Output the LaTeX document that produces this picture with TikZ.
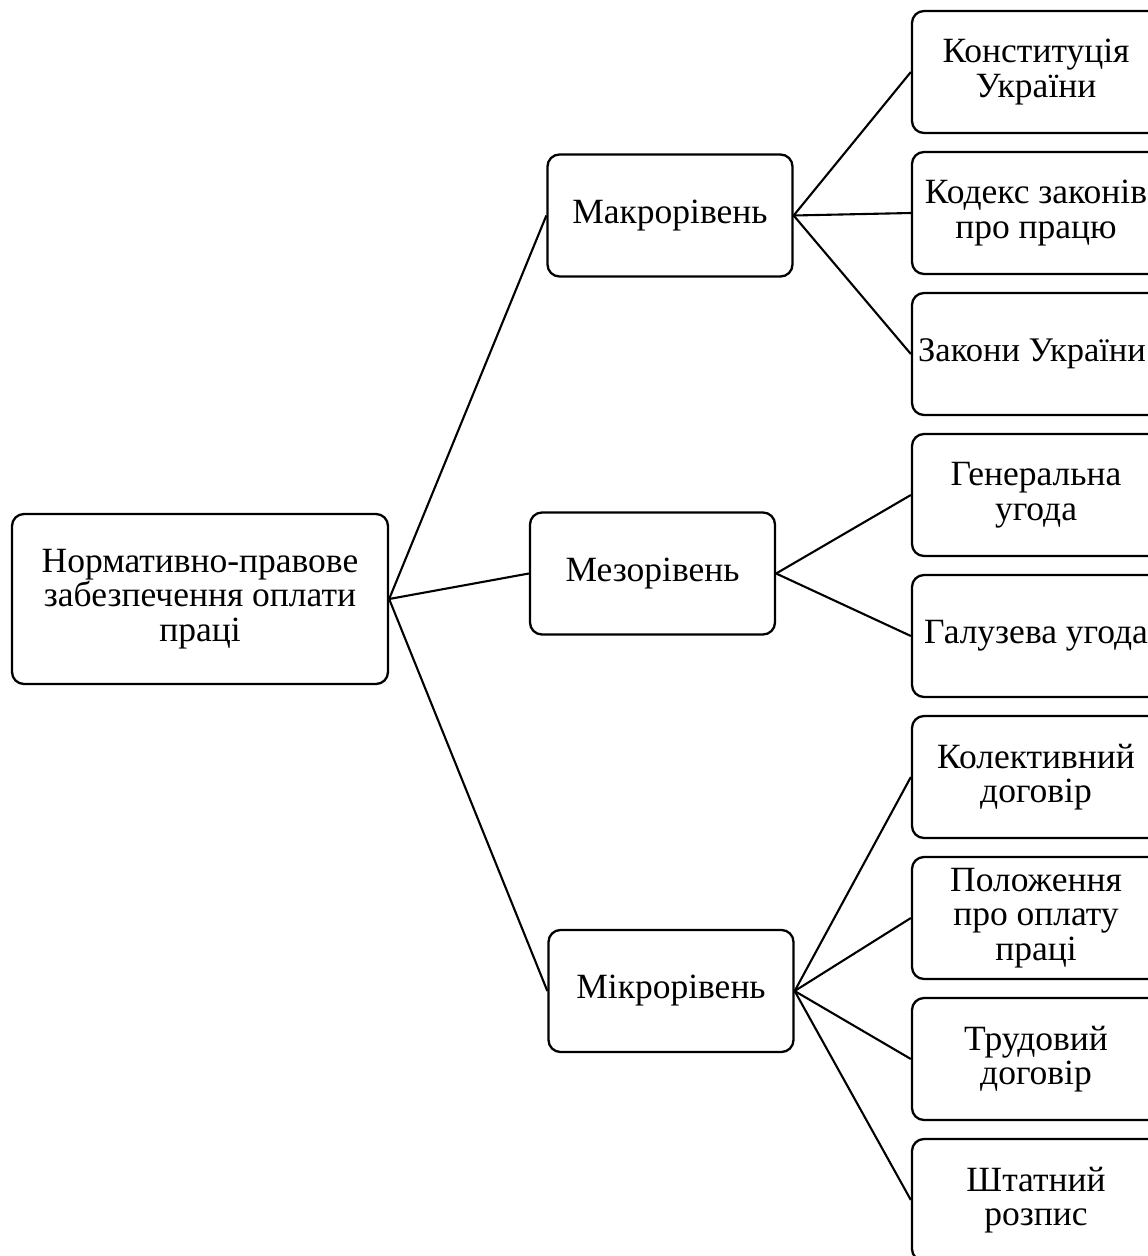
\documentclass[tikz,border=0pt]{standalone}
\usepackage{fontspec}
\setmainfont{Liberation Serif}
\begin{document}
\begin{tikzpicture}[x=1pt,y=-1pt,
  box/.style={draw, line width=2.3pt, rounded corners=12pt, align=center,
    inner sep=0pt, font=\fontsize{35.5}{34.5}\selectfont},
  leaf/.style={box, minimum width=248pt, minimum height=122pt},
  mid/.style={box, minimum width=245pt, minimum height=122pt},
  link/.style={line width=2.1pt}]
\clip (0,0) rectangle (1148,1256);
\node[box, minimum width=376pt, minimum height=170pt] (root) at (200,599)
  {Нормативно-правове\\забезпечення оплати\\праці};
\node[mid] (macro) at (670,215.5) {Макрорівень};
\node[mid] (meso) at (652.5,573.5) {Мезорівень};
\node[mid] (micro) at (671,991) {Мікрорівень};
\node[leaf] (l1) at (1036,72) {Конституція\\України};
\node[leaf] (l2) at (1036,213) {Кодекс законів\\про працю};
\node[leaf] (l3) at (1036,354) {\fontsize{34.5}{34.5}\selectfont Закони України\kern8pt};
\node[leaf] (l4) at (1036,495) {Генеральна\\угода};
\node[leaf] (l5) at (1036,636) {Галузева угода};
\node[leaf] (l6) at (1036,777) {Колективний\\договір};
\node[leaf] (l7) at (1036,918) {Положення\\про оплату\\праці};
\node[leaf] (l8) at (1036,1059) {Трудовий\\договір};
\node[leaf] (l9) at (1036,1200) {Штатний\\розпис};
\draw[link] (root.east) -- (macro.west);
\draw[link] (root.east) -- (meso.west);
\draw[link] (root.east) -- (micro.west);
\foreach \n in {l1,l2,l3} \draw[link] (macro.east) -- (\n.west);
\foreach \n in {l4,l5} \draw[link] (meso.east) -- (\n.west);
\foreach \n in {l6,l7,l8,l9} \draw[link] (micro.east) -- (\n.west);
\end{tikzpicture}
\end{document}
